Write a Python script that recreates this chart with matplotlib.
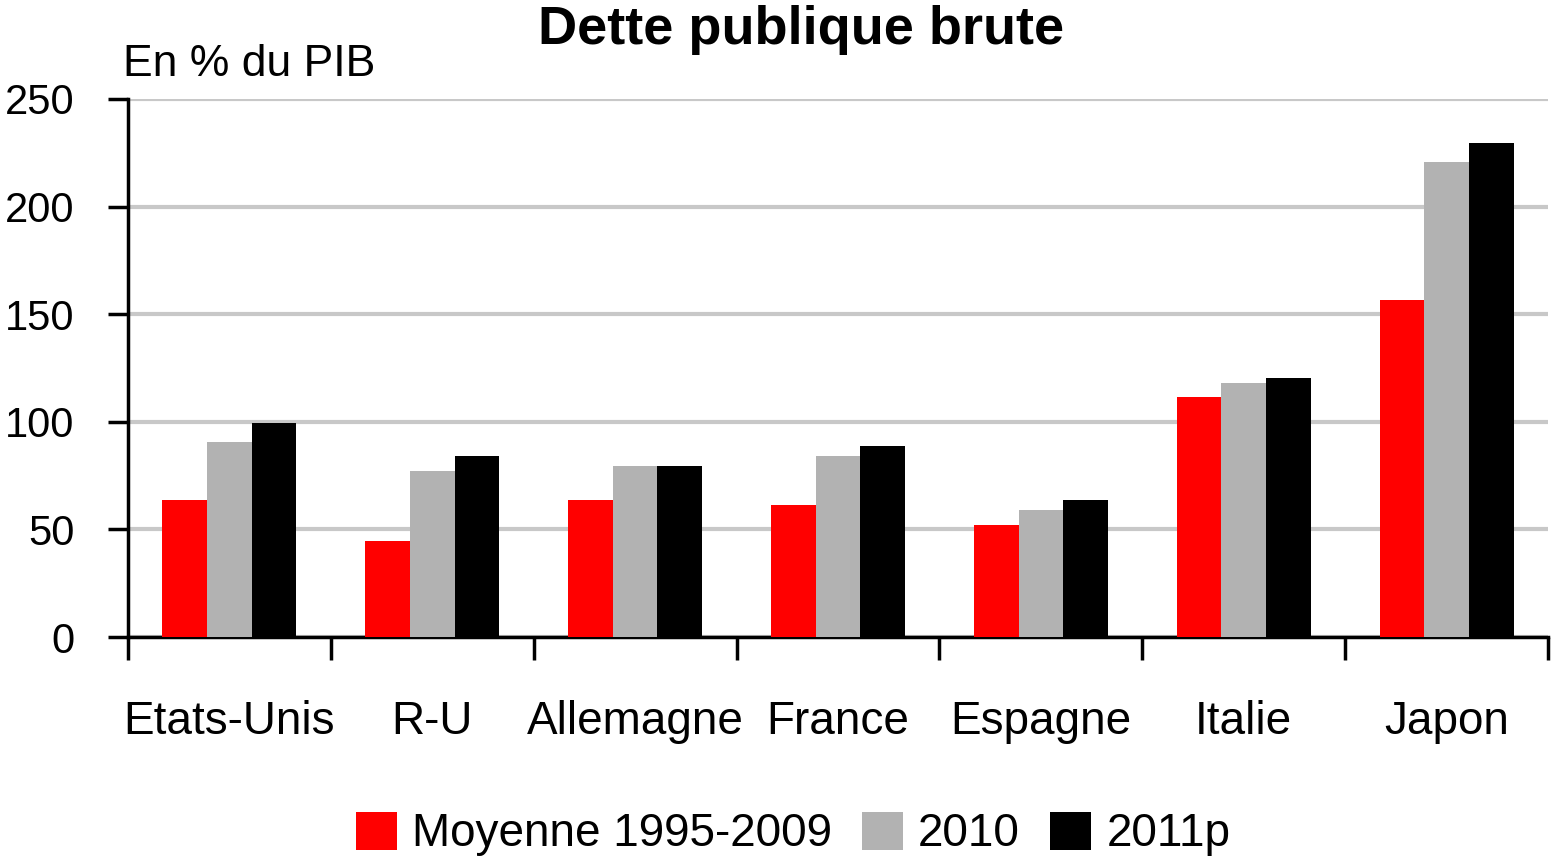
import matplotlib
matplotlib.use("Agg")
import matplotlib.pyplot as plt
import numpy as np

categories = ["Etats-Unis", "R-U", "Allemagne", "France", "Espagne", "Italie", "Japon"]
moyenne = [63.7, 44.6, 63.7, 61.3, 52.0, 111.5, 156.6]
v2010 = [90.6, 77.1, 79.5, 84.1, 59.0, 118.0, 220.7]
v2011 = [99.4, 84.1, 79.5, 88.8, 63.7, 120.4, 229.6]
series_labels = ["Moyenne 1995-2009", "2010", "2011p"]
colors = ["#ff0000", "#b2b2b2", "#000000"]
yticks = [0, 50, 100, 150, 200, 250]

plt.rcParams['font.family'] = ["Liberation Sans", 'DejaVu Sans']

fig = plt.figure(figsize=(15.51, 8.63), dpi=100)
W, H = 1551, 863
ax = fig.add_axes([128 / W, 1 - 637 / H, (1548 - 128) / W, (637 - 99) / H])

x = np.arange(len(categories))
bw = 0.22
data = [moyenne, v2010, v2011]
for i, (vals, c, lab) in enumerate(zip(data, colors, series_labels)):
    ax.bar(x + (i - 1) * bw, vals, width=bw, color=c, label=lab, zorder=3)

ax.set_xlim(-0.5, len(categories) - 0.5)
ax.set_ylim(0, 250)
ax.set_yticks(yticks)
ax.set_yticklabels([str(t) for t in yticks], fontsize=30)
ax.yaxis.grid(True, color="#c8c8c8", linewidth=3, zorder=0)
ax.set_axisbelow(True)
for s in ["top", "right"]:
    ax.spines[s].set_visible(False)
ax.spines["left"].set_linewidth(2.5)
ax.spines["bottom"].set_linewidth(2.5)
ax.tick_params(axis="y", length=14.5, width=2.5, pad=24)

ax.set_xticks(np.arange(len(categories) + 1) - 0.5)
ax.set_xticklabels([])
ax.tick_params(axis="x", which="major", length=16.5, width=2.5)
ax.set_xticks(x, minor=True)
ax.set_xticklabels(categories, minor=True, fontsize=33)
ax.tick_params(axis="x", which="minor", length=0, pad=45)

fig.text(801 / W, 1 - 30 / H, "Dette publique brute", ha="center", va="center",
         fontsize=39, fontweight="bold")
fig.text(123 / W, 1 - 65 / H, "En % du PIB", ha="left", va="center", fontsize=32)

handles, labels = ax.get_legend_handles_labels()
fig.legend(handles, labels, loc="center", bbox_to_anchor=(793 / W, 1 - 834 / H),
           ncol=3, frameon=False, fontsize=33, handlelength=0.9, handleheight=0.9,
           handletextpad=0.33, columnspacing=0.65)

fig.savefig("out.png", dpi=100)
